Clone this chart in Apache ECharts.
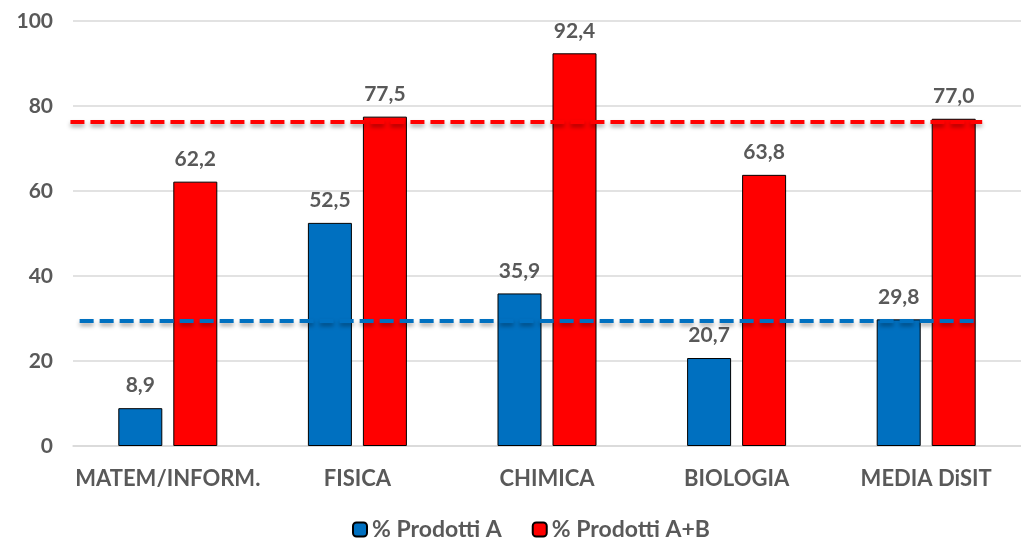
<!DOCTYPE html>
<html>
<head>
<meta charset="utf-8">
<script src="https://cdn.jsdelivr.net/npm/echarts@6/dist/echarts.min.js"></script>
<style>
  html, body { margin: 0; padding: 0; background: #fff; }
  #chart { width: 1021px; height: 542px; }
</style>
</head>
<body>
<div id="chart"></div>
<script>
// dati
const categories = ['MATEM/INFORM.', 'FISICA', 'CHIMICA', 'BIOLOGIA', 'MEDIA DiSIT'];
const prodottiA = [8.9, 52.5, 35.9, 20.7, 29.8];
const prodottiAB = [62.2, 77.5, 92.4, 63.8, 77.0];
const lineaA = 29.4;   // linea tratteggiata blu
const lineaAB = 76.2;  // linea tratteggiata rossa
const yTicks = [0, 20, 40, 60, 80, 100];

const grey = '#595959';
const font = 'Lato';

var myChart = echarts.init(document.getElementById('chart'));

function dashed(value, color, x1, x2) {
    return {
        silent: true,
        symbol: 'none',
        label: { show: false },
        lineStyle: {
            color: color,
            type: [14, 6],
            width: 4,
            shadowColor: 'rgba(0,0,0,0.35)',
            shadowBlur: 4,
            shadowOffsetY: 3
        },
        data: [[{ x: x1, yAxis: value }, { x: x2, yAxis: value }]]
    };
}

var labelStyle = {
    show: true,
    position: 'top',
    distance: 12,
    color: grey,
    fontFamily: font,
    fontWeight: 'bold',
    fontSize: 21,
    formatter: function (p) { return p.value.toFixed(1).replace('.', ','); }
};

var option = {
    animation: false,
    grid: {
        left: 73,
        top: 21,
        width: 952,
        bottom: 96
    },
    legend: {
        bottom: -4,
        left: 347,
        itemWidth: 14,
        itemHeight: 14,
        itemGap: 30,
        textStyle: { color: grey, fontFamily: font, fontWeight: 'bold', fontSize: 23 },
        data: ['% Prodotti A', '% Prodotti A+B']
    },
    xAxis: {
        type: 'category',
        data: categories,
        axisTick: { show: false },
        axisLine: { lineStyle: { color: '#d9d9d9', width: 1.5 } },
        axisLabel: { interval: 0, color: grey, fontFamily: font, fontWeight: 'bold', fontSize: 22, margin: 22 }
    },
    yAxis: {
        type: 'value',
        min: yTicks[0],
        max: yTicks[yTicks.length - 1],
        interval: 20,
        axisLabel: { color: grey, fontFamily: font, fontWeight: 'bold', fontSize: 21, margin: 20 },
        splitLine: { lineStyle: { color: '#d9d9d9', width: 1.5 } }
    },
    series: [
        {
            name: '% Prodotti A',
            type: 'bar',
            data: prodottiA,
            barWidth: 44,
            barGap: '25%',
            itemStyle: { color: '#0070C0', borderColor: '#000', borderWidth: 1 },
            label: labelStyle,
            markLine: dashed(lineaA, '#0070C0', '7.8%', '95.5%')
        },
        {
            name: '% Prodotti A+B',
            type: 'bar',
            data: prodottiAB,
            barWidth: 44,
            itemStyle: { color: '#FF0000', borderColor: '#000', borderWidth: 1 },
            label: labelStyle,
            markLine: dashed(lineaAB, '#FF0000', '6.9%', '96.2%')
        }
    ]
};

myChart.setOption(option);
</script>
</body>
</html>
